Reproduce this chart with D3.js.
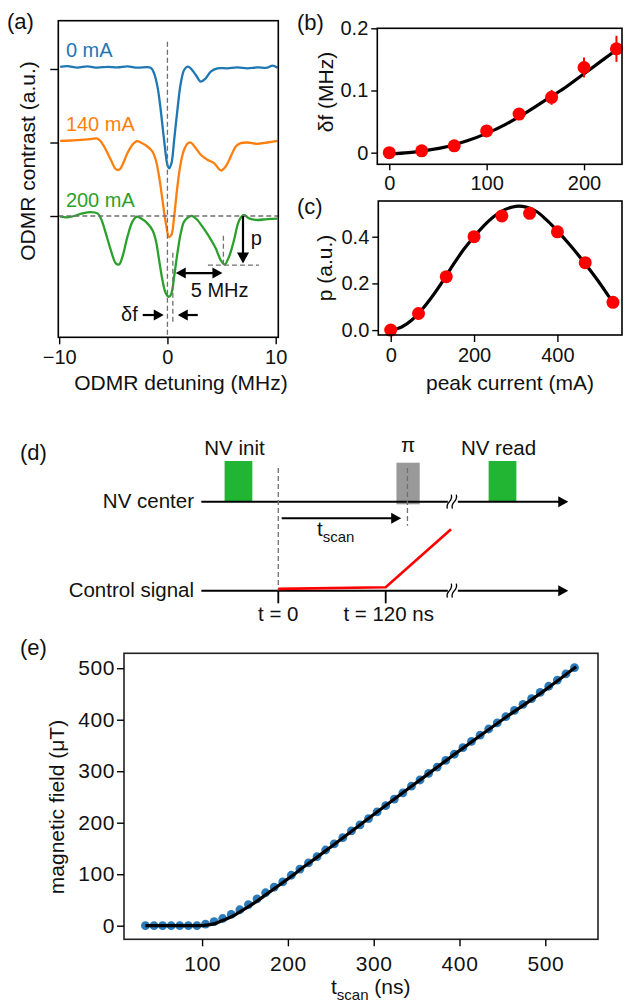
<!DOCTYPE html>
<html>
<head>
<meta charset="utf-8">
<script src="https://cdn.jsdelivr.net/npm/d3@7"></script>
<style>
body { margin: 0; background: #fff; }
svg { font-family: "Liberation Sans", Arial, sans-serif; }
</style>
</head>
<body>
<div id="fig"></div>
<script>
// ---------- data ----------
// (a) ODMR spectra, [detuning MHz, contrast a.u. relative to own baseline]
const traceNames = ["0 mA", "140 mA", "200 mA"];
const traceOffsets = [2, 1, 0];
const odmr0mA = [[-9.91,0.03],[-9.23,0.04],[-8.31,0.02],[-7.39,0.036],[-6.46,0.018],[-5.54,0.03],[-4.62,0.022],
	[-3.69,0.036],[-2.77,0.018],[-1.85,0.025],[-1.48,0.009],[-1.23,-0.059],[-0.92,-0.24],[-0.62,-0.558],
	[-0.31,-0.966],[0,-1.306],[0.15,-1.35],[0.37,-1.283],[0.62,-0.966],[0.92,-0.558],[1.23,-0.195],
	[1.54,-0.014],[1.85,0.031],[2.15,0.009],[2.62,-0.082],[3.08,-0.172],[3.54,-0.127],[4.0,-0.036],
	[4.62,0.009],[5.54,0.009],[6.46,0.022],[7.39,0.009],[8.31,0.022],[9.23,0.018],[9.7,0.045],[10.16,0.018]];
const odmr140mA = [[-9.91,0.023],[-8.92,0.027],[-8.0,0.037],[-7.08,0.046],[-6.46,0.054],[-6.15,0.014],
	[-5.69,-0.099],[-5.23,-0.235],[-4.77,-0.362],[-4.46,-0.371],[-4.15,-0.303],[-3.69,-0.144],[-3.23,-0.031],
	[-2.83,0.019],[-2.46,0],[-1.85,-0.054],[-1.39,-0.122],[-1.08,-0.235],[-0.77,-0.463],[-0.46,-0.78],
	[-0.15,-1.097],[0.15,-1.287],[0.37,-1.256],[0.62,-1.007],[0.92,-0.599],[1.23,-0.28],[1.54,-0.099],
	[1.91,-0.009],[2.15,0],[2.62,-0.077],[3.08,-0.167],[3.69,-0.235],[4.31,-0.28],[4.77,-0.362],[4.98,-0.381],
	[5.38,-0.327],[5.85,-0.19],[6.31,-0.054],[6.77,-0.009],[7.39,0],[8.31,-0.018],[9.23,0],[10.16,0.023]];
const odmr200mA = [[-9.91,-0.009],[-9.23,-0.018],[-8.62,0],[-7.85,0.036],[-7.08,0.054],[-6.46,0.036],
	[-6.15,-0.032],[-5.69,-0.236],[-5.23,-0.463],[-4.77,-0.644],[-4.46,-0.658],[-4.15,-0.553],[-3.69,-0.281],
	[-3.23,-0.077],[-2.83,-0.009],[-2.46,-0.032],[-1.85,-0.1],[-1.39,-0.19],[-1.08,-0.327],[-0.77,-0.599],
	[-0.46,-0.871],[-0.15,-1.052],[0.15,-1.098],[0.37,-1.052],[0.62,-0.825],[0.92,-0.508],[1.23,-0.236],
	[1.54,-0.077],[2.0,-0.009],[2.31,0],[2.77,-0.054],[3.23,-0.145],[3.85,-0.281],[4.46,-0.44],[4.92,-0.599],
	[5.29,-0.658],[5.69,-0.553],[6.15,-0.327],[6.52,-0.1],[6.83,-0.009],[7.08,0.014],[7.54,-0.032],
	[8.31,-0.054],[9.23,-0.041],[10.16,-0.036]];

// (b) frequency shift vs current
const shiftCurrent = [0, 33.3, 66.7, 100, 133.3, 166.7, 200, 233.3];
const shiftValue = [0, 0.003, 0.011, 0.035, 0.062, 0.089, 0.137, 0.167];
const shiftError = [0.002, 0.002, 0.002, 0.003, 0.003, 0.012, 0.016, 0.021];
const shiftFitCurrent = [0, 20, 40, 60, 80, 100, 120, 140, 160, 180, 200, 220, 238];
const shiftFitValue = [-0.002, 0, 0.004, 0.010, 0.019, 0.031, 0.046, 0.064, 0.084, 0.104, 0.127, 0.150, 0.171];

// (c) peak p vs peak current
const peakCurrent = [0, 66.7, 133.3, 200, 266.7, 333.3, 400, 466.7, 533.3];
const peakP = [0, 0.071, 0.229, 0.40, 0.489, 0.50, 0.421, 0.289, 0.119];
const peakFitCurrent = [0, 25, 50, 75, 100, 125, 150, 175, 200, 225, 250, 275, 300, 325, 350, 375, 400, 425, 450, 475, 500, 525, 540];
const peakFitP = [0, 0.012, 0.042, 0.088, 0.145, 0.21, 0.28, 0.345, 0.40, 0.45, 0.49, 0.517, 0.530, 0.527, 0.508, 0.47, 0.425, 0.375, 0.322, 0.265, 0.205, 0.14, 0.105];

// (e) magnetic field vs t_scan
const tScan = [34,44,54,64,74,84,94,104,114,124,134,144,154,164,174,184,194,204,214,224,
	234,244,254,264,274,284,294,304,314,324,334,344,354,364,374,384,394,404,414,424,
	434,444,454,464,474,484,494,504,514,524,534];
const bField = [0,0,0,0,0,0,0,3,8,14,22,31,41,52,64,75,85,98,110,122,
	134,147,159,171,184,196,208,221,233,246,258,271,283,296,308,321,333,346,358,370,
	382,394,406,418,430,441,453,465,477,489,501];
const bFitT = [34,95,105,115,125,135,145,155,165,175,185,195,205,215,225,250,300,350,400,450,500,536];
const bFitB = [0,0,1,4,11,18,28,38,49,61,73,85,97,110,122,153,216,278,340,400,458,503];

// (d) timing diagram, times in ns
const seqStart = -86, seqBreak = 195, seqEnd = 324;
const pulses = [
	{ name: "NV init", t0: -60, t1: -29, fill: "#22b534" },
	{ name: "π", t0: 132, t1: 158, fill: "#999999" },
	{ name: "NV read", t0: 235, t1: 266, fill: "#22b534" }
];
const rampTimes = [0, 120, 193];
const rampLevels = [0.03, 0.055, 1];

// ---------- styling ----------
const COLORS = ["#1f77b4", "#ff7f0e", "#2ca02c"];
const RED = "#ff0000";
const DASH = "#707070";

const svg = d3.select("#fig").append("svg")
	.attr("width", 626)
	.attr("height", 1006);

function frame(x0, y0, x1, y1, col) {
	svg.append("rect")
		.attr("x", x0).attr("y", y0)
		.attr("width", x1 - x0).attr("height", y1 - y0)
		.attr("fill", "none").attr("stroke", col || "#000").attr("stroke-width", 1.6);
}

function styleAxis(g, fs) {
	g.select(".domain").remove();
	g.selectAll(".tick line").attr("stroke", "#000").attr("stroke-width", 1.4);
	g.selectAll(".tick text").attr("fill", "#111").style("font-size", fs + "px")
		.style("font-family", '"Liberation Sans", Arial, sans-serif');
}

function panelLabel(txt, x, y) {
	svg.append("text").attr("x", x).attr("y", y).text(txt)
		.style("font-size", "22px").attr("fill", "#111");
}

function yLabel(txt, x, y, fs) {
	return svg.append("text")
		.attr("transform", `translate(${x},${y}) rotate(-90)`)
		.attr("text-anchor", "middle")
		.style("font-size", (fs || 21) + "px").attr("fill", "#111")
		.text(txt);
}

function arrowHead(x, y, dir, size) {
	// dir: "r", "l", "d"
	const s = size || 9, w = s * 0.55;
	let p;
	if (dir == "r") p = [[x, y], [x - s, y - w], [x - s, y + w]];
	else if (dir == "l") p = [[x, y], [x + s, y - w], [x + s, y + w]];
	else p = [[x, y], [x - w, y - s], [x + w, y - s]];
	svg.append("path").attr("d", "M" + p.join("L") + "Z").attr("fill", "#000");
}

// ================= (a) =================
const ax = d3.scaleLinear().domain([-10.08, 10.24]).range([58.3, 278.3]);
const ay = d3.scaleLinear().domain([-1.65, 2.657]).range([337.3, 20.7]);

const odmrLine = d3.line()
	.x(d => ax(d[0]))
	.curve(d3.curveCatmullRom.alpha(0.5));

[odmr0mA, odmr140mA, odmr200mA].map((tr, n) => {
	svg.append("path")
		.attr("d", odmrLine.y(d => ay(d[1] + traceOffsets[n]))(tr))
		.attr("fill", "none")
		.attr("stroke", COLORS[n])
		.attr("stroke-width", 2.3);
});

// dashed guides
function dashed(x1, y1, x2, y2) {
	svg.append("line").attr("x1", x1).attr("y1", y1).attr("x2", x2).attr("y2", y2)
		.attr("stroke", DASH).attr("stroke-width", 1.3).attr("stroke-dasharray", "5,3");
}
dashed(ax(0), ay(2.37), ax(0), ay(-1.65));
dashed(ax(-10.08), ay(0), ax(10.24), ay(0));
dashed(ax(0.5), ay(-0.5), ax(0.5), ay(-1.48));
dashed(ax(5.17), ay(-0.27), ax(5.17), ay(-0.667));
dashed(ax(3.74), ay(-0.667), ax(8.45), ay(-0.667));

// arrows
function seg(x1, y1, x2, y2, w) {
	svg.append("line").attr("x1", x1).attr("y1", y1).attr("x2", x2).attr("y2", y2)
		.attr("stroke", "#000").attr("stroke-width", w || 2.2);
}
// p arrow
seg(ax(6.98), ay(0), ax(6.98), ay(-0.55));
arrowHead(ax(6.98), ay(-0.645), "d", 11);
// 5 MHz double arrow
seg(ax(1.5), ay(-0.776), ax(4.4), ay(-0.776));
arrowHead(ax(0.77), ay(-0.776), "l", 10);
arrowHead(ax(5.08), ay(-0.776), "r", 10);
// delta f arrows
seg(ax(-2.28), ay(-1.347), ax(-1.0), ay(-1.347));
arrowHead(ax(-0.34), ay(-1.347), "r", 10);
seg(ax(2.8), ay(-1.347), ax(1.6), ay(-1.347));
arrowHead(ax(0.95), ay(-1.347), "l", 10);

svg.append("text").attr("x", ax(7.7)).attr("y", ay(-0.40)).text("p")
	.style("font-size", "20px").attr("fill", "#111");
svg.append("text").attr("x", ax(2.15)).attr("y", ay(-1.10)).text("5 MHz")
	.style("font-size", "20px").attr("fill", "#111");
svg.append("text").attr("x", ax(-2.74)).attr("y", ay(-1.43)).attr("text-anchor", "end").text("δf")
	.style("font-size", "20px").attr("fill", "#111");

// trace labels
const labelY = [2.163, 1.156, 0.122];
traceNames.map((nm, n) => {
	svg.append("text").attr("x", ax(-9.38)).attr("y", ay(labelY[n])).text(nm)
		.style("font-size", "20px").attr("fill", COLORS[n]);
});

frame(58.3, 20.7, 278.3, 337.3);
svg.append("g").attr("transform", "translate(0,337.3)")
	.call(d3.axisBottom(ax).tickValues([-10, 0, 10]).tickSize(7).tickPadding(6))
	.call(g => styleAxis(g, 20));
svg.append("g").attr("transform", "translate(58.3,0)")
	.call(d3.axisLeft(ay).tickValues(traceOffsets).tickSize(8).tickFormat(""))
	.call(g => styleAxis(g, 20));
svg.append("text").attr("x", 181).attr("y", 390).attr("text-anchor", "middle")
	.style("font-size", "21px").attr("fill", "#111").text("ODMR detuning (MHz)");
yLabel("ODMR contrast (a.u.)", 35, 161);
panelLabel("(a)", 7, 29);

// ================= (b) =================
const bx = d3.scaleLinear().domain([-12.3, 239]).range([377.3, 622]);
const by = d3.scaleLinear().domain([-0.0187, 0.2]).range([164.3, 28.3]);

svg.append("path")
	.attr("d", d3.line().x((d, i) => bx(shiftFitCurrent[i])).y(d => by(d)).curve(d3.curveCatmullRom)(shiftFitValue))
	.attr("fill", "none").attr("stroke", "#000").attr("stroke-width", 3.2);
shiftCurrent.map((c, i) => {
	svg.append("line")
		.attr("x1", bx(c)).attr("x2", bx(c))
		.attr("y1", by(shiftValue[i] - shiftError[i])).attr("y2", by(shiftValue[i] + shiftError[i]))
		.attr("stroke", RED).attr("stroke-width", 2);
	svg.append("circle").attr("cx", bx(c)).attr("cy", by(shiftValue[i])).attr("r", 6.5).attr("fill", RED);
});
frame(377.3, 28.3, 622, 164.3);
svg.append("g").attr("transform", "translate(0,164.3)")
	.call(d3.axisBottom(bx).tickValues([0, 100, 200]).tickSize(6).tickPadding(6))
	.call(g => styleAxis(g, 20));
svg.append("g").attr("transform", "translate(377.3,0)")
	.call(d3.axisLeft(by).tickValues([0, 0.1, 0.2]).tickSize(6).tickPadding(3)
		.tickFormat(d => d == 0 ? "0" : d.toFixed(1)))
	.call(g => styleAxis(g, 20));
yLabel("δf (MHz)", 333, 92);
panelLabel("(b)", 297, 30);

// ================= (c) =================
const cx = d3.scaleLinear().domain([-29.8, 555]).range([378.3, 622]);
const cy = d3.scaleLinear().domain([-0.021, 0.553]).range([335, 201]);

svg.append("path")
	.attr("d", d3.line().x((d, i) => cx(peakFitCurrent[i])).y(d => cy(d)).curve(d3.curveCatmullRom)(peakFitP))
	.attr("fill", "none").attr("stroke", "#000").attr("stroke-width", 3.2);
peakCurrent.map((c, i) => {
	svg.append("circle").attr("cx", cx(c)).attr("cy", cy(peakP[i])).attr("r", 6.5).attr("fill", RED);
});
frame(378.3, 201, 622, 335);
svg.append("g").attr("transform", "translate(0,335)")
	.call(d3.axisBottom(cx).tickValues([0, 200, 400]).tickSize(7).tickPadding(6))
	.call(g => styleAxis(g, 20));
svg.append("g").attr("transform", "translate(378.3,0)")
	.call(d3.axisLeft(cy).tickValues([0, 0.2, 0.4]).tickSize(6).tickPadding(3).tickFormat(d => d.toFixed(1)))
	.call(g => styleAxis(g, 20));
svg.append("text").attr("x", 510).attr("y", 390).attr("text-anchor", "middle")
	.style("font-size", "21px").attr("fill", "#111").text("peak current (mA)");
yLabel("p (a.u.)", 332, 268);
panelLabel("(c)", 297, 214);

// ================= (d) =================
const tx = d3.scaleLinear().domain([0, 120]).range([278.3, 385.7]);
const NV_Y = 501.7, CTRL_Y = 590.7;
const lvl = d3.scaleLinear().domain([0, 1]).range([CTRL_Y, 529.3]);

pulses.map(p => {
	const isPi = p.name == "π";
	svg.append("rect")
		.attr("x", tx(p.t0)).attr("width", tx(p.t1) - tx(p.t0))
		.attr("y", isPi ? 462.7 : 461).attr("height", isPi ? 41.6 : NV_Y - 461)
		.attr("fill", p.fill);
	svg.append("text")
		.attr("x", (tx(p.t0) + tx(p.t1)) / 2 + (isPi ? 0 : -4))
		.attr("y", isPi ? 451.7 : 455)
		.attr("text-anchor", "middle")
		.style("font-size", "20.5px").attr("fill", "#111")
		.text(p.name);
});

function seqLine(y) {
	seg(tx(seqStart), y, tx(seqEnd) - 8, y, 2);
	arrowHead(tx(seqEnd), y, "r", 10);
	// break mark
	const bxp = tx(seqBreak);
	svg.append("rect").attr("x", bxp - 5).attr("y", y - 3).attr("width", 10).attr("height", 6).attr("fill", "#fff");
	[-2.5, 2.5].map(o => {
		svg.append("path")
			.attr("d", `M${bxp + o - 3},${y + 7} q-1,-4 2,-7 q3,-3 2,-7`)
			.attr("fill", "none").attr("stroke", "#000").attr("stroke-width", 1.3);
	});
}
seqLine(NV_Y);
seqLine(CTRL_Y);

svg.append("text").attr("x", 194).attr("y", 507.5).attr("text-anchor", "end")
	.style("font-size", "20.5px").attr("fill", "#111").text("NV center");
svg.append("text").attr("x", 194).attr("y", 596.5).attr("text-anchor", "end")
	.style("font-size", "20.5px").attr("fill", "#111").text("Control signal");

// t=0 dashed line and pi dashed line
dashed(tx(0), 468, tx(0), CTRL_Y);
dashed(tx(144.3), 468, tx(144.3), 525.7);
seg(tx(0), CTRL_Y, tx(0), 603.3, 1.8);
seg(tx(120), CTRL_Y, tx(120), 603.3, 1.8);

// t_scan arrow
seg(tx(3.8), 518.3, tx(131), 518.3, 2);
arrowHead(tx(137.3), 518.3, "r", 10);
const ts = svg.append("text").attr("x", 317).attr("y", 536).style("font-size", "20.5px").attr("fill", "#111");
ts.append("tspan").text("t");
ts.append("tspan").attr("dy", 6).style("font-size", "15px").text("scan");

// control ramp
svg.append("path")
	.attr("d", d3.line().x((d, i) => tx(rampTimes[i])).y(d => lvl(d))(rampLevels))
	.attr("fill", "none").attr("stroke", RED).attr("stroke-width", 2.6);

svg.append("text").attr("x", tx(0)).attr("y", 621).attr("text-anchor", "middle")
	.style("font-size", "20.5px").attr("fill", "#111").text("t = 0");
svg.append("text").attr("x", tx(120) + 3).attr("y", 621).attr("text-anchor", "middle")
	.style("font-size", "20.5px").attr("fill", "#111").text("t = 120 ns");
panelLabel("(d)", 20, 460);

// ================= (e) =================
const ex = d3.scaleLinear().domain([9, 561.4]).range([124, 598]);
const ey = d3.scaleLinear().domain([-26.4, 529]).range([939.3, 653.3]);

tScan.map((t, i) => {
	svg.append("circle").attr("cx", ex(t)).attr("cy", ey(bField[i])).attr("r", 4.4).attr("fill", "#2b7bba");
});
svg.append("path")
	.attr("d", d3.line().x((d, i) => ex(bFitT[i])).y(d => ey(d)).curve(d3.curveMonotoneX)(bFitB))
	.attr("fill", "none").attr("stroke", "#000").attr("stroke-width", 3.2);

frame(124, 653.3, 598, 939.3, "#222");
svg.append("g").attr("transform", "translate(0,939.3)")
	.call(d3.axisBottom(ex).tickValues([100, 200, 300, 400, 500]).tickSize(7).tickPadding(10))
	.call(g => styleAxis(g, 21))
	.call(g => g.selectAll(".tick text").style("letter-spacing", "0.6px"));
svg.append("g").attr("transform", "translate(124,0)")
	.call(d3.axisLeft(ey).tickValues([0, 100, 200, 300, 400, 500]).tickSize(7).tickPadding(2))
	.call(g => styleAxis(g, 21))
	.call(g => g.selectAll(".tick text").style("letter-spacing", "0.6px"));
yLabel("magnetic field (μT)", 64, 807, 21);
const el = svg.append("text").attr("x", 331).attr("y", 994).style("font-size", "21px").attr("fill", "#111");
el.append("tspan").text("t");
el.append("tspan").attr("dy", 6).style("font-size", "15px").text("scan");
el.append("tspan").attr("dy", -6).text(" (ns)");
panelLabel("(e)", 20, 655);
</script>
</body>
</html>
